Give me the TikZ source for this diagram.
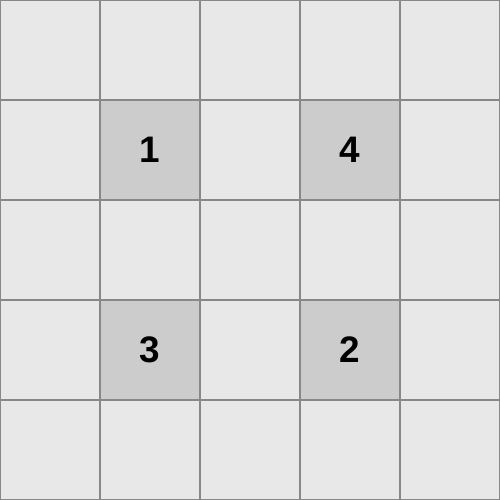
\documentclass[tikz,border=0pt]{standalone}
\usepackage{fontspec}
\setmainfont{Liberation Sans}
\usepackage{tikz}
\usetikzlibrary{positioning}
\definecolor{cellbg}{HTML}{E8E8E8}
\definecolor{cellmark}{HTML}{CCCCCC}
\definecolor{gridline}{HTML}{888888}

\begin{document}
\begin{tikzpicture}[
  cell/.style={draw=gridline,line width=0.35pt,fill=cellbg,minimum size=1cm,inner sep=0pt,outer sep=0pt},
  marked/.style={cell,fill=cellmark,font=\fontsize{10.5}{12}\selectfont\bfseries}]
\useasboundingbox (0,0) rectangle (5,5);
\foreach \i in {0,...,4}
  \foreach \j in {0,...,4}
    \node[cell] (c\i\j) at (\i+0.5,4.5-\j) {};
\node[marked] (m1) at (c11) {1};
\node[marked] (m4) at (c31) {4};
\node[marked] (m3) at (c13) {3};
\node[marked] (m2) at (c33) {2};
\end{tikzpicture}
\end{document}
